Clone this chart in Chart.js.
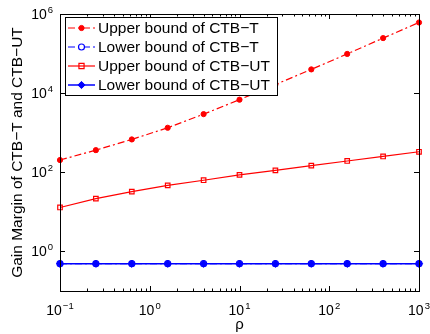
<!DOCTYPE html>
<html>
<head>
<meta charset="utf-8">
<script src="https://cdn.jsdelivr.net/npm/chart.js@4/dist/chart.umd.min.js"></script>
<style>
  html, body { margin: 0; padding: 0; background: #fff; }
  canvas { display: block; }
</style>
</head>
<body>
<canvas id="myChart" width="430" height="334"></canvas>
<script>
// values
const rho = [0.1, 0.251, 0.631, 1.585, 3.981, 10, 25.12, 63.1, 158.5, 398.1, 1000];
const upperT = [204, 363, 676, 1334, 2950, 6840, 16500, 39800, 98000, 246000, 610000];
const lowerT = [0.49, 0.49, 0.49, 0.49, 0.49, 0.49, 0.49, 0.49, 0.49, 0.49, 0.49];
const upperUT = [12.9, 21.6, 32.4, 46.6, 63, 86, 112, 147, 193, 251, 330];
const lowerUT = [0.49, 0.49, 0.49, 0.49, 0.49, 0.49, 0.49, 0.49, 0.49, 0.49, 0.49];

const seriesNames = ['Upper bound of CTB\u2212T', 'Lower bound of CTB\u2212T', 'Upper bound of CTB\u2212UT', 'Lower bound of CTB\u2212UT'];
const xTicks = [0.1, 1, 10, 100, 1000];
const xTickExp = ['\u22121', '0', '1', '2', '3'];
const yTicks = [1, 100, 10000, 1000000];
const yTickExp = ['0', '2', '4', '6'];
const xTitle = '\u03c1';
const yTitle = 'Gain Margin of CTB\u2212T and CTB\u2212UT';

const FONT = "'Liberation Sans', Arial, Helvetica, sans-serif";

function pts(ys) {
    return rho.map((x, i) => ({ x: x, y: ys[i] }));
}

const dashDot = [7, 3, 2, 3];

const datasets = [{
    label: seriesNames[0],
    data: pts(upperT),
    borderColor: '#ff0000',
    backgroundColor: '#ff0000',
    borderWidth: 1.2,
    borderDash: dashDot,
    pointStyle: 'circle',
    pointRadius: 2.6,
    pointBorderWidth: 1,
    order: 3
}, {
    label: seriesNames[1],
    data: pts(lowerT),
    borderColor: '#0000ff',
    backgroundColor: '#ffffff',
    borderWidth: 1.2,
    borderDash: dashDot,
    pointStyle: 'circle',
    pointRadius: 3,
    pointBorderWidth: 1.2,
    order: 2
}, {
    label: seriesNames[2],
    data: pts(upperUT),
    borderColor: '#ff0000',
    backgroundColor: 'rgba(255,255,255,0)',
    borderWidth: 1.2,
    pointStyle: 'rect',
    pointRadius: 3.2,
    pointBorderWidth: 1.2,
    order: 1
}, {
    label: seriesNames[3],
    data: pts(lowerUT),
    borderColor: '#0000ff',
    backgroundColor: '#0000ff',
    borderWidth: 1.5,
    pointStyle: 'rectRot',
    pointRadius: 3.6,
    pointBorderWidth: 1,
    order: 0
}];

function drawMarker(ctx, ds, x, y) {
    ctx.save();
    ctx.setLineDash([]);
    ctx.lineWidth = ds.pointBorderWidth;
    ctx.strokeStyle = ds.borderColor;
    ctx.fillStyle = ds.backgroundColor;
    const r = ds.pointRadius;
    ctx.beginPath();
    if (ds.pointStyle === 'circle') {
        ctx.arc(x, y, r, 0, Math.PI * 2);
    } else if (ds.pointStyle === 'rect') {
        ctx.rect(x - r * 0.8, y - r * 0.8, r * 1.6, r * 1.6);
    } else {
        ctx.moveTo(x, y - r); ctx.lineTo(x + r, y); ctx.lineTo(x, y + r); ctx.lineTo(x - r, y); ctx.closePath();
    }
    ctx.fill();
    ctx.stroke();
    ctx.restore();
}

// MATLAB-like box, inward ticks, labels with superscripts and the legend
const matlabAxes = {
    id: 'matlabAxes',
    afterDatasetsDraw(chart) {
        const ctx = chart.ctx;
        const a = chart.chartArea;
        const xs = chart.scales.x, ys = chart.scales.y;
        ctx.save();
        ctx.strokeStyle = '#000';
        ctx.fillStyle = '#000';
        ctx.lineWidth = 1;
        ctx.setLineDash([]);
        ctx.strokeRect(Math.round(a.left) + 0.5, Math.round(a.top) + 0.5,
            Math.round(a.right - a.left), Math.round(a.bottom - a.top));

        // x ticks (major + minor), top and bottom
        ctx.beginPath();
        for (let e = 0; e < xTicks.length; e++) {
            for (let m = 1; m <= 9; m++) {
                const v = xTicks[e] * m;
                if (v > xs.max * 1.0001) break;
                const px = Math.round(xs.getPixelForValue(v)) + 0.5;
                const len = m === 1 ? 5 : 2.5;
                ctx.moveTo(px, a.bottom); ctx.lineTo(px, a.bottom - len);
                ctx.moveTo(px, a.top); ctx.lineTo(px, a.top + len);
            }
        }
        // y ticks, left and right
        yTicks.forEach(v => {
            const py = Math.round(ys.getPixelForValue(v)) + 0.5;
            ctx.moveTo(a.left, py); ctx.lineTo(a.left + 5, py);
            ctx.moveTo(a.right, py); ctx.lineTo(a.right - 5, py);
        });
        ctx.stroke();

        // x tick labels
        ctx.textBaseline = 'alphabetic';
        xTicks.forEach((v, i) => {
            const px = xs.getPixelForValue(v);
            ctx.font = '14px ' + FONT;
            const wb = ctx.measureText('10').width;
            ctx.font = '9.5px ' + FONT;
            const we = ctx.measureText(xTickExp[i]).width;
            const x0 = px - (wb + 1 + we) / 2;
            ctx.textAlign = 'left';
            ctx.font = '14px ' + FONT;
            ctx.fillText('10', x0, 315);
            ctx.font = '9.5px ' + FONT;
            ctx.fillText(xTickExp[i], x0 + wb + 1, 309);
        });
        // y tick labels
        yTicks.forEach((v, i) => {
            const py = ys.getPixelForValue(v);
            ctx.font = '9.5px ' + FONT;
            const we = ctx.measureText(yTickExp[i]).width;
            ctx.textAlign = 'left';
            ctx.fillText(yTickExp[i], 53 - we, py - 1);
            ctx.font = '14px ' + FONT;
            ctx.textAlign = 'right';
            ctx.fillText('10', 53 - we - 1, py + 5);
        });

        // axis titles
        ctx.font = '15px ' + FONT;
        ctx.textAlign = 'center';
        ctx.fillText(xTitle, (a.left + a.right) / 2, 329);
        ctx.save();
        ctx.translate(22, (a.top + a.bottom) / 2);
        ctx.rotate(-Math.PI / 2);
        ctx.font = '15.5px ' + FONT;
        ctx.fillText(yTitle, 0, 0);
        ctx.restore();

        // legend
        const lx = 65.5, ly = 17.5, lw = 212, lh = 78;
        ctx.fillStyle = '#fff';
        ctx.fillRect(lx, ly, lw, lh);
        ctx.strokeStyle = '#000';
        ctx.strokeRect(lx, ly, lw, lh);
        chart.data.datasets.forEach((ds, i) => {
            const cy = 28 + i * 19;
            ctx.save();
            ctx.strokeStyle = ds.borderColor;
            ctx.lineWidth = ds.borderWidth;
            ctx.setLineDash(ds.borderDash || []);
            ctx.beginPath();
            ctx.moveTo(68, cy); ctx.lineTo(95, cy);
            ctx.stroke();
            ctx.restore();
            drawMarker(ctx, ds, 81.5, cy);
            ctx.fillStyle = '#000';
            ctx.font = '15.5px ' + FONT;
            ctx.textAlign = 'left';
            ctx.textBaseline = 'middle';
            ctx.fillText(ds.label, 98, cy + 1);
        });
        ctx.restore();
    }
};

const ctx = document.getElementById('myChart').getContext('2d');
const myChart = new Chart(ctx, {
    type: 'line',
    data: { datasets: datasets },
    options: {
        responsive: false,
        animation: false,
        devicePixelRatio: 1,
        layout: { padding: { left: 60, right: 11, top: 14, bottom: 43 } },
        plugins: { legend: { display: false }, tooltip: { enabled: false } },
        elements: { line: { tension: 0 } },
        datasets: { line: { clip: false } },
        scales: {
            x: { type: 'logarithmic', min: 0.1, max: 1000, display: false },
            y: { type: 'logarithmic', min: 0.1, max: 1000000, display: false }
        }
    },
    plugins: [matlabAxes]
});
</script>
</body>
</html>
